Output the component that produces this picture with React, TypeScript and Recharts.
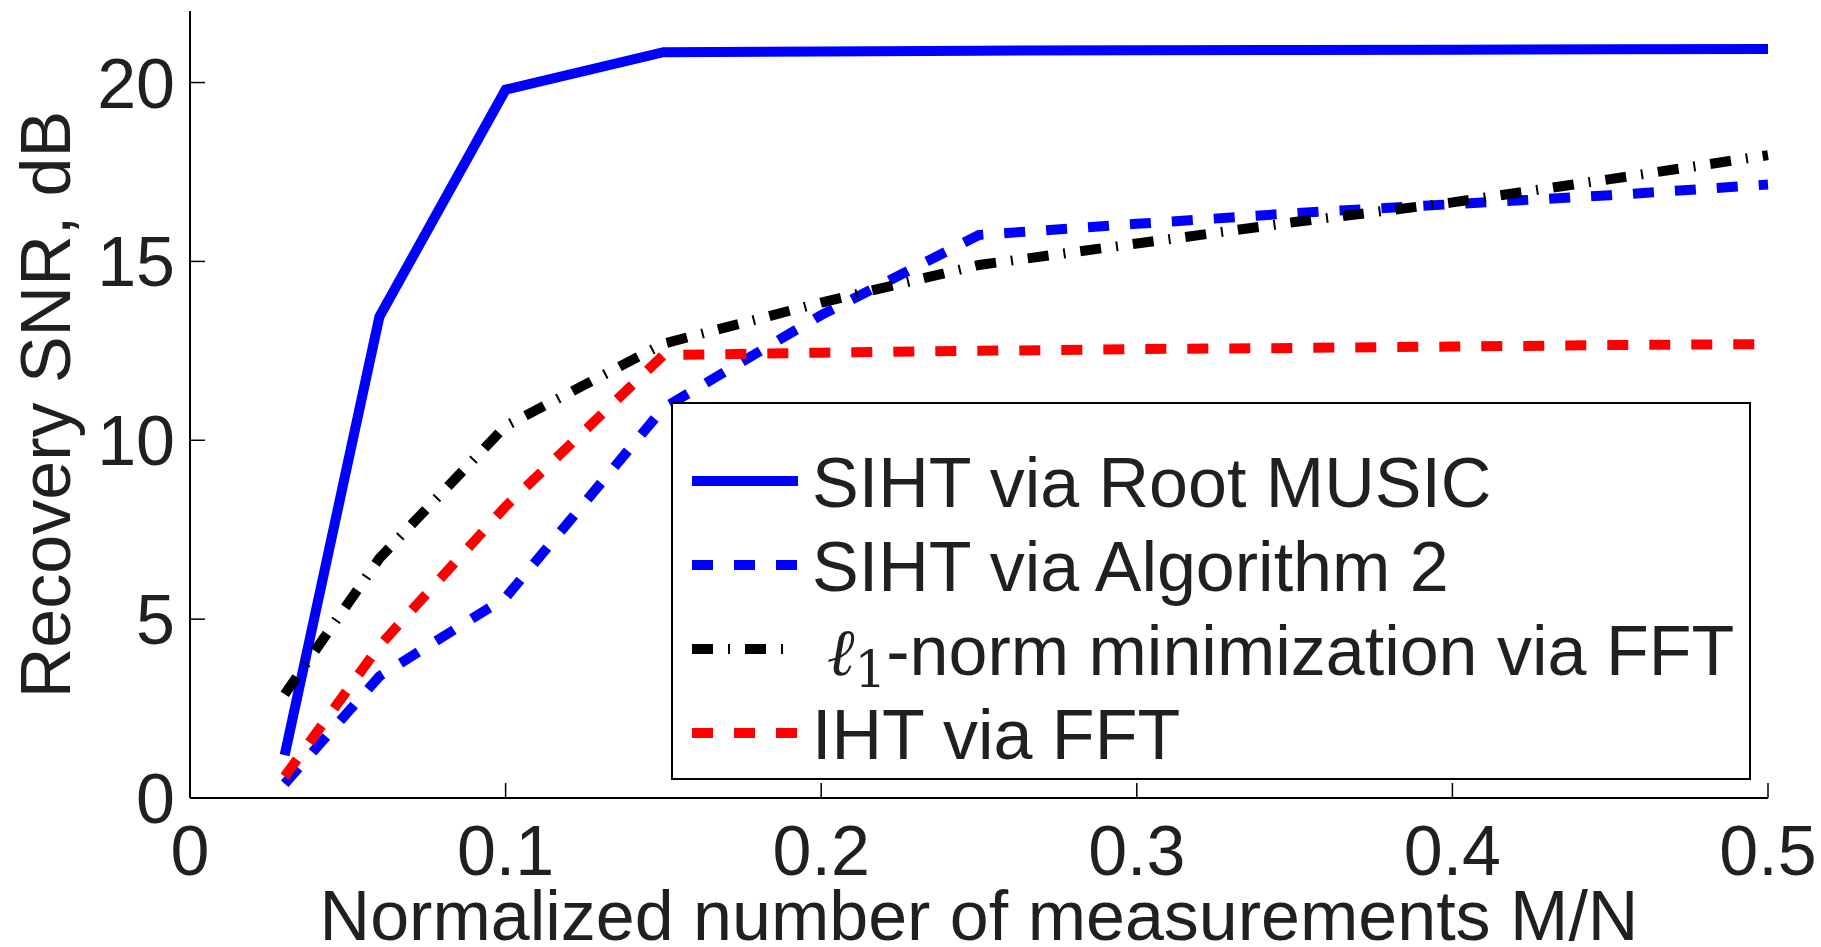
import React from 'react';
import { LineChart, Line, XAxis, YAxis, Legend, Label } from 'recharts';

const ratios = [0.03, 0.06, 0.1, 0.15, 0.2, 0.25, 0.3, 0.35, 0.4, 0.45, 0.5];
const rootMusic = [1.2, 13.45, 19.8, 20.85, 20.87, 20.89, 20.9, 20.91, 20.92, 20.93, 20.94];
const algorithm2 = [0.4, 3.4, 5.6, 10.9, 13.5, 15.74, 16.05, 16.35, 16.6, 16.85, 17.15];
const l1Norm = [2.9, 6.7, 10.4, 12.7, 13.85, 14.9, 15.5, 16.1, 16.65, 17.3, 17.97];
const ihtFft = [0.6, 4.25, 8.15, 12.38, 12.45, 12.5, 12.55, 12.58, 12.62, 12.66, 12.69];

const xTicks = [0, 0.1, 0.2, 0.3, 0.4, 0.5];
const yTicks = [0, 5, 10, 15, 20];
const seriesOrder = ['rootMusic', 'algorithm2', 'l1Norm', 'ihtFft'];

const data = ratios.map((r, i) => ({
  r,
  rootMusic: rootMusic[i],
  algorithm2: algorithm2[i],
  l1Norm: l1Norm[i],
  ihtFft: ihtFft[i],
}));

const FONT = '"Liberation Sans", Arial, Helvetica, sans-serif';
const TEXT = '#231f20';
const TICK = 15;

const BottomTick = (props: any) => {
  const { x, y, payload } = props;
  return (
    <g>
      <line x1={x} y1={y} x2={x} y2={y - TICK} stroke="#000" strokeWidth={1.5} />
      <text x={x} y={y + 77} textAnchor="middle" fontSize={70} fontFamily={FONT} fill={TEXT}>
        {String(payload.value)}
      </text>
    </g>
  );
};

const TopTick = (props: any) => {
  const { x, y } = props;
  return <line x1={x} y1={y} x2={x} y2={y + TICK} stroke="#000" strokeWidth={1.5} />;
};

const LeftTick = (props: any) => {
  const { x, y, payload } = props;
  return (
    <g>
      <line x1={x} y1={y} x2={x + TICK} y2={y} stroke="#000" strokeWidth={1.5} />
      <text x={x - 15} y={y + 25} textAnchor="end" fontSize={70} fontFamily={FONT} fill={TEXT}>
        {String(payload.value)}
      </text>
    </g>
  );
};

const RightTick = (props: any) => {
  const { x, y } = props;
  return <line x1={x} y1={y} x2={x - TICK} y2={y} stroke="#000" strokeWidth={1.5} />;
};

const YLabel = (props: any) => {
  const { viewBox } = props;
  const cy = viewBox.y + viewBox.height / 2;
  return (
    <text
      x={70}
      y={cy}
      transform={`rotate(-90 70 ${cy})`}
      textAnchor="middle"
      fontSize={70}
      fontFamily={FONT}
      fill={TEXT}
    >
      Recovery SNR, dB
    </text>
  );
};

const XLabel = (props: any) => {
  const { viewBox } = props;
  return (
    <text
      x={viewBox.x + viewBox.width / 2}
      y={940}
      textAnchor="middle"
      fontSize={70}
      fontFamily={FONT}
      fill={TEXT}
    >
      Normalized number of measurements M/N
    </text>
  );
};

const renderLabel = (key: string) => {
  if (key === 'l1Norm') {
    return (
      <>
        <tspan dx={15} fontFamily='"DejaVu Serif", serif' fontStyle="italic" fontSize={66}>
          ℓ
        </tspan>
        <tspan fontFamily='"DejaVu Serif", serif' fontSize={50} dy={12}>
          1
        </tspan>
        <tspan dy={-12}>-norm minimization via FFT</tspan>
      </>
    );
  }
  const names: Record<string, string> = {
    rootMusic: 'SIHT via Root MUSIC',
    algorithm2: 'SIHT via Algorithm 2',
    ihtFft: 'IHT via FFT',
  };
  return names[key];
};

const LegendBox = (props: any) => {
  const payload = [...(props.payload || [])].sort(
    (a: any, b: any) => seriesOrder.indexOf(a.dataKey) - seriesOrder.indexOf(b.dataKey)
  );
  return (
    <svg width={1080} height={378} style={{ display: 'block' }}>
      <rect x={1} y={1} width={1078} height={376} fill="#fff" stroke="#000" strokeWidth={2} />
      {payload.map((p: any, i: number) => {
        const cy = 79 + i * 84;
        return (
          <g key={p.dataKey}>
            <line
              x1={21}
              y1={cy}
              x2={127}
              y2={cy}
              stroke={p.color}
              strokeWidth={10}
              strokeDasharray={p.payload?.strokeDasharray}
            />
            <text x={141} y={cy + 26} fontSize={70} fontFamily={FONT} fill={TEXT}>
              {renderLabel(p.dataKey)}
            </text>
          </g>
        );
      })}
    </svg>
  );
};

export default function App() {
  return (
    <div style={{ position: 'absolute', left: 0, top: 0, background: '#fff' }}>
      <LineChart
        width={1821}
        height={947}
        data={data}
        margin={{ top: 11, right: 53, bottom: 0, left: 0 }}
      >
        <XAxis
          dataKey="r"
          type="number"
          domain={[0, 0.5]}
          ticks={xTicks}
          height={149}
          tickSize={0}
          tickMargin={0}
          tick={<BottomTick />}
          axisLine={{ stroke: '#000', strokeWidth: 2 }}
          tickLine={false}
        >
          <Label content={<XLabel />} />
        </XAxis>
        <XAxis
          xAxisId="top"
          dataKey="r"
          type="number"
          orientation="top"
          domain={[0, 0.5]}
          ticks={xTicks}
          height={0}
          tickSize={0}
          tickMargin={0}
          tick={<TopTick />}
          axisLine={{ stroke: '#000', strokeWidth: 2 }}
          tickLine={false}
        />
        <YAxis
          type="number"
          domain={[0, 22]}
          ticks={yTicks}
          width={190}
          tickSize={0}
          tickMargin={0}
          tick={<LeftTick />}
          axisLine={{ stroke: '#000', strokeWidth: 2 }}
          tickLine={false}
        >
          <Label content={<YLabel />} />
        </YAxis>
        <YAxis
          yAxisId="right"
          orientation="right"
          type="number"
          domain={[0, 22]}
          ticks={yTicks}
          width={0}
          tickSize={0}
          tickMargin={0}
          tick={<RightTick />}
          axisLine={{ stroke: '#000', strokeWidth: 2 }}
          tickLine={false}
        />
        <Legend
          layout="horizontal"
          verticalAlign="middle"
          align="center"
          content={<LegendBox />}
          wrapperStyle={{ position: 'absolute', left: 671, top: 402, width: 1080, height: 378 }}
        />
        <Line
          dataKey="rootMusic"
          name="SIHT via Root MUSIC"
          type="linear"
          stroke="#0000ff"
          strokeWidth={10}
          dot={false}
          isAnimationActive={false}
        />
        <Line
          dataKey="algorithm2"
          name="SIHT via Algorithm 2"
          type="linear"
          stroke="#0000ff"
          strokeWidth={10}
          strokeDasharray="21 21"
          dot={false}
          isAnimationActive={false}
        />
        <Line
          dataKey="l1Norm"
          name="l1-norm minimization via FFT"
          type="linear"
          stroke="#000000"
          strokeWidth={10}
          strokeDasharray="21 15 2 15"
          dot={false}
          isAnimationActive={false}
        />
        <Line
          dataKey="ihtFft"
          name="IHT via FFT"
          type="linear"
          stroke="#ff0000"
          strokeWidth={10}
          strokeDasharray="21 21"
          dot={false}
          isAnimationActive={false}
        />
      </LineChart>
    </div>
  );
}
